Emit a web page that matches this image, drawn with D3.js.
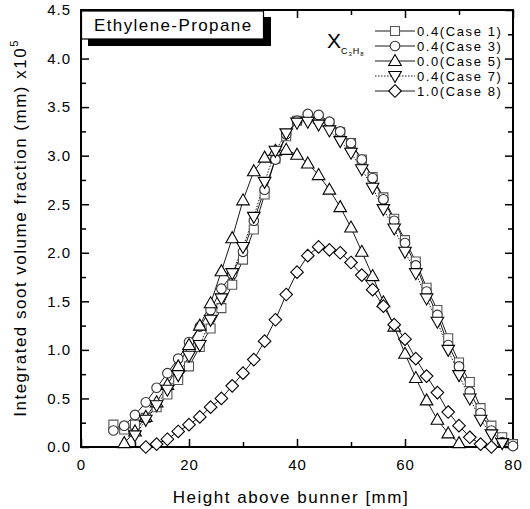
<!DOCTYPE html>
<html>
<head>
<meta charset="utf-8">
<script src="https://cdn.jsdelivr.net/npm/d3@7/dist/d3.min.js"></script>
<style>
  html, body { margin: 0; padding: 0; background: #fff; }
  svg text { font-family: "Liberation Sans", Arial, Helvetica, sans-serif; fill: #000; }
</style>
</head>
<body>
<svg id="chart" width="530" height="509"></svg>
<script>
// Height above burner (mm) for each case
const hCase1 = [6,8,10,12,14,16,18,20,22,24,26,28,30,32,34,36,38,40,42,44,46,48,50,52,54,56,58,60,62,64,66,68,70,72,74,76,78,80];
const vCase1 = [0.23,0.18,0.23,0.30,0.41,0.54,0.69,0.83,1.03,1.22,1.43,1.67,1.93,2.24,2.60,2.97,3.20,3.36,3.40,3.38,3.33,3.24,3.13,2.96,2.78,2.57,2.35,2.13,1.91,1.64,1.41,1.12,0.87,0.67,0.40,0.22,0.10,0.03];

const hCase3 = [6,8,10,12,14,16,18,20,22,24,26,28,30,32,34,36,38,40,42,44,46,48,50,52,54,56,58,60,62,64,66,68,70,72,74,76,78,80];
const vCase3 = [0.17,0.22,0.33,0.46,0.61,0.76,0.91,1.08,1.24,1.41,1.63,1.78,2.01,2.33,2.65,2.96,3.22,3.36,3.43,3.42,3.35,3.25,3.13,2.96,2.77,2.55,2.33,2.10,1.87,1.60,1.36,1.05,0.83,0.57,0.35,0.17,0.05,0.01];

const hCase5 = [8,10,12,14,16,18,20,22,24,26,28,30,32,34,36,38,40,42,44,46,48,50,52,54,56,58,60,62,64,66,68,70];
const vCase5 = [0.04,0.16,0.31,0.46,0.64,0.83,1.05,1.25,1.48,1.81,2.15,2.54,2.84,2.98,3.05,3.06,3.01,2.92,2.80,2.65,2.47,2.26,2.01,1.76,1.49,1.24,0.96,0.71,0.48,0.28,0.14,0.04];

const hCase7 = [10,12,14,16,18,20,22,24,26,28,30,32,34,36,38,40,42,44,46,48,50,52,54,56,58,60,62,64,66,68,70,72,74,76,78];
const vCase7 = [0.12,0.28,0.43,0.59,0.74,0.94,1.05,1.31,1.53,1.79,2.06,2.37,2.73,3.05,3.23,3.34,3.35,3.32,3.26,3.15,3.03,2.86,2.67,2.45,2.25,2.01,1.79,1.53,1.29,1.00,0.74,0.50,0.28,0.13,0.04];

const hCase8 = [12,14,16,18,20,22,24,26,28,30,32,34,36,38,40,42,44,46,48,50,52,54,56,58,60,62,64,66,68,70,72,74,76];
const vCase8 = [0.00,0.03,0.08,0.16,0.23,0.31,0.41,0.50,0.63,0.76,0.90,1.09,1.31,1.57,1.80,1.97,2.06,2.03,2.00,1.90,1.77,1.62,1.45,1.26,1.11,0.91,0.73,0.56,0.36,0.22,0.10,0.03,0.00];

const legendLabels = ["0.4(Case 1)", "0.4(Case 3)", "0.0(Case 5)", "0.4(Case 7)", "1.0(Case 8)"];
const yTickLabels = ["0.0","0.5","1.0","1.5","2.0","2.5","3.0","3.5","4.0","4.5"];
const xTickLabels = ["0","20","40","60","80"];

const series = [
  { name: legendLabels[0], h: hCase1, v: vCase1, shape: "square",   dash: null,  color: "#555" },
  { name: legendLabels[1], h: hCase3, v: vCase3, shape: "circle",   dash: null,  color: "#333" },
  { name: legendLabels[2], h: hCase5, v: vCase5, shape: "triangle", dash: null,  color: "#000" },
  { name: legendLabels[3], h: hCase7, v: vCase7, shape: "tridown",  dash: "1.5,1.5", color: "#000" },
  { name: legendLabels[4], h: hCase8, v: vCase8, shape: "diamond",  dash: null,  color: "#000" }
];

const svg = d3.select("#chart");
const L = 81, R = 513, T = 10, B = 447;
const x = d3.scaleLinear().domain([0, 80]).range([L, R]);
const y = d3.scaleLinear().domain([0, 4.5]).range([B, T]);

// marker outlines centred on the origin
function markerPath(shape) {
  const p = d3.path();
  if (shape === "square") { p.rect(-4.5, -4.5, 9, 9); }
  else if (shape === "circle") { p.arc(0, 0, 4.8, 0, 2 * Math.PI); p.closePath(); }
  else if (shape === "triangle") { p.moveTo(0, -6.5); p.lineTo(6.3, 4.5); p.lineTo(-6.3, 4.5); p.closePath(); }
  else if (shape === "tridown") { p.moveTo(0, 6.5); p.lineTo(6.3, -4.5); p.lineTo(-6.3, -4.5); p.closePath(); }
  else if (shape === "diamond") { p.moveTo(0, -6.3); p.lineTo(6.3, 0); p.lineTo(0, 6.3); p.lineTo(-6.3, 0); p.closePath(); }
  return p.toString();
}

// axes: ticks point inward on all four sides
const yAxisL = d3.axisLeft(y).tickValues(d3.range(0, 4.51, 0.5)).tickSize(-8).tickFormat((d, i) => yTickLabels[i]).tickPadding(10);
const yAxisR = d3.axisRight(y).tickValues(d3.range(0, 4.51, 0.5)).tickSize(-8).tickFormat("");
const yMinorL = d3.axisLeft(y).tickValues(d3.range(0.25, 4.5, 0.5)).tickSize(-5).tickFormat("");
const yMinorR = d3.axisRight(y).tickValues(d3.range(0.25, 4.5, 0.5)).tickSize(-5).tickFormat("");
const xAxisB = d3.axisBottom(x).tickValues(d3.range(0, 81, 20)).tickSize(-8).tickFormat((d, i) => xTickLabels[i]).tickPadding(12);
const xAxisT = d3.axisTop(x).tickValues(d3.range(0, 81, 20)).tickSize(-8).tickFormat("");
const xMinorB = d3.axisBottom(x).tickValues(d3.range(10, 80, 20)).tickSize(-5).tickFormat("");
const xMinorT = d3.axisTop(x).tickValues(d3.range(10, 80, 20)).tickSize(-5).tickFormat("");

function styleAxis(g) {
  g.select(".domain").remove();
  g.selectAll(".tick line").attr("stroke", "#000").attr("stroke-width", 1.5);
  g.selectAll(".tick text").attr("font-size", 15).attr("letter-spacing", 1)
    .attr("font-family", "Liberation Sans, Arial, sans-serif");
}
svg.append("g").attr("transform", `translate(${L},0)`).call(yAxisL).call(styleAxis);
svg.append("g").attr("transform", `translate(${L},0)`).call(yMinorL).call(styleAxis);
svg.append("g").attr("transform", `translate(${R},0)`).call(yAxisR).call(styleAxis);
svg.append("g").attr("transform", `translate(${R},0)`).call(yMinorR).call(styleAxis);
svg.append("g").attr("transform", `translate(0,${B})`).call(xAxisB).call(styleAxis);
svg.append("g").attr("transform", `translate(0,${B})`).call(xMinorB).call(styleAxis);
svg.append("g").attr("transform", `translate(0,${T})`).call(xAxisT).call(styleAxis);
svg.append("g").attr("transform", `translate(0,${T})`).call(xMinorT).call(styleAxis);

// frame
svg.append("rect").attr("x", L).attr("y", T).attr("width", R - L).attr("height", B - T)
  .attr("fill", "none").attr("stroke", "#000").attr("stroke-width", 2);

// series lines and markers
const line = d3.line().x(d => x(d[0])).y(d => y(d[1]));
series.forEach(s => {
  const pts = s.h.map((h, i) => [h, s.v[i]]);
  svg.append("path").datum(pts).attr("d", line)
    .attr("fill", "none").attr("stroke", "#000").attr("stroke-width", 0.9)
    .attr("stroke-dasharray", s.dash);
});
series.forEach(s => {
  const pts = s.h.map((h, i) => [h, s.v[i]]);
  svg.append("g").selectAll("path").data(pts).join("path")
    .attr("transform", d => `translate(${x(d[0])},${y(d[1])})`)
    .attr("d", markerPath(s.shape))
    .attr("fill", "#fff").attr("stroke", s.color).attr("stroke-width", 1.1);
});

// title box with drop shadow
svg.append("rect").attr("x", 88).attr("y", 17).attr("width", 183).attr("height", 29).attr("fill", "#000");
svg.append("rect").attr("x", 81.5).attr("y", 11).attr("width", 182).attr("height", 28)
  .attr("fill", "#fff").attr("stroke", "#000").attr("stroke-width", 1.2);
svg.append("text").attr("x", 94).attr("y", 31).attr("font-size", 17).attr("letter-spacing", 1.4)
  .text("Ethylene-Propane");

// legend
const legend = svg.append("g");
series.forEach((s, i) => {
  const ly = 31 + i * 15;
  legend.append("line").attr("x1", 375).attr("x2", 415).attr("y1", ly).attr("y2", ly)
    .attr("stroke", "#000").attr("stroke-width", 0.9).attr("stroke-dasharray", s.dash);
  legend.append("path").attr("transform", `translate(395,${ly})`).attr("d", markerPath(s.shape))
    .attr("fill", "#fff").attr("stroke", s.color).attr("stroke-width", 1.1);
  legend.append("text").attr("x", 417).attr("y", ly + 5).attr("font-size", 13)
    .attr("letter-spacing", 1.6).text(s.name);
});
const xl = legend.append("text").attr("x", 327).attr("y", 48);
xl.append("tspan").attr("font-size", 21).text("X");
xl.append("tspan").attr("font-size", 9).attr("dy", 6).attr("letter-spacing", 1).text("C");
xl.append("tspan").attr("font-size", 6).attr("dy", 2).attr("letter-spacing", 1).text("3");
xl.append("tspan").attr("font-size", 9).attr("dy", -2).attr("letter-spacing", 1).text("H");
xl.append("tspan").attr("font-size", 6).attr("dy", 2).text("8");

// axis titles
svg.append("text").attr("x", 291).attr("y", 503).attr("text-anchor", "middle").attr("font-size", 17)
  .attr("letter-spacing", 1.5).text("Height above bunner [mm]");
const yt = svg.append("text").attr("transform", "translate(26,228) rotate(-90)")
  .attr("text-anchor", "middle").attr("font-size", 17).attr("letter-spacing", 1.5);
yt.append("tspan").text("Integrated soot volume fraction (mm) x10");
yt.append("tspan").attr("font-size", 11).attr("dy", -8).text("5");
</script>
</body>
</html>
